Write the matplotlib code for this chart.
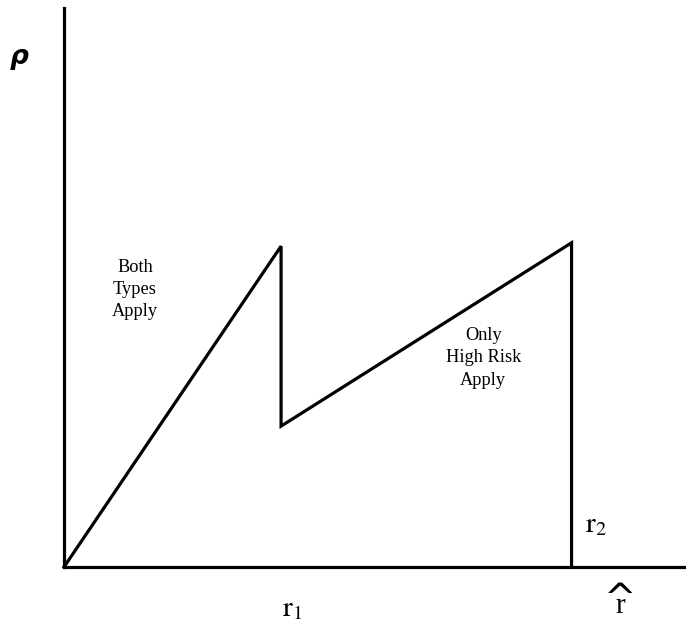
import matplotlib
matplotlib.use("Agg")
import matplotlib.pyplot as plt

# data (axis units: 0..100 on both axes)
r_vals = [0, 34.9, 34.9, 81.6, 81.6]
rho_vals = [0, 57.4, 25.2, 58.0, 0]

region_labels = ["Both\nTypes\nApply", "Only\nHigh Risk\nApply"]
region_pos = [(11.4, 49.6), (67.4, 37.4)]

plt.rcParams['mathtext.fontset'] = 'stix'

fig = plt.figure(figsize=(6.86, 6.23), dpi=100)
ax = fig.add_axes([64/686, (623-567)/623, 1 - 64/686, (567-8)/623])
ax.plot(r_vals, rho_vals, color='black', lw=2.3, solid_joinstyle='miter', clip_on=False)
ax.set_xlim(0, 100)
ax.set_ylim(0, 100)
for s in ['top', 'right']:
    ax.spines[s].set_visible(False)
for s in ['left', 'bottom']:
    ax.spines[s].set_linewidth(2.3)
ax.set_xticks([])
ax.set_yticks([])

for lab, (x, y) in zip(region_labels, region_pos):
    ax.text(x, y, lab, ha='center', va='center', fontsize=13.2,
            family='Liberation Serif', linespacing=1.4)

ax.text(-7.2, 91.2, 'ρ', ha='center', va='center',
        fontsize=19, fontweight='bold', fontstyle='italic', family='DejaVu Sans', clip_on=False)
ax.text(83.8, 7.7, r'$\mathrm{r}_2$', ha='left', va='center', fontsize=21, clip_on=False)
ax.text(36.7, -7.3, r'$\mathrm{r}_1$', ha='center', va='center', fontsize=21, clip_on=False)
ax.text(89.4, -7.0, 'r', ha='center', va='center', fontsize=21,
        family='Liberation Serif', clip_on=False)
ax.text(89.4, -5.9, '^', ha='center', va='center', fontsize=28,
        family='DejaVu Sans', clip_on=False)

fig.savefig("out.png", dpi=100)
